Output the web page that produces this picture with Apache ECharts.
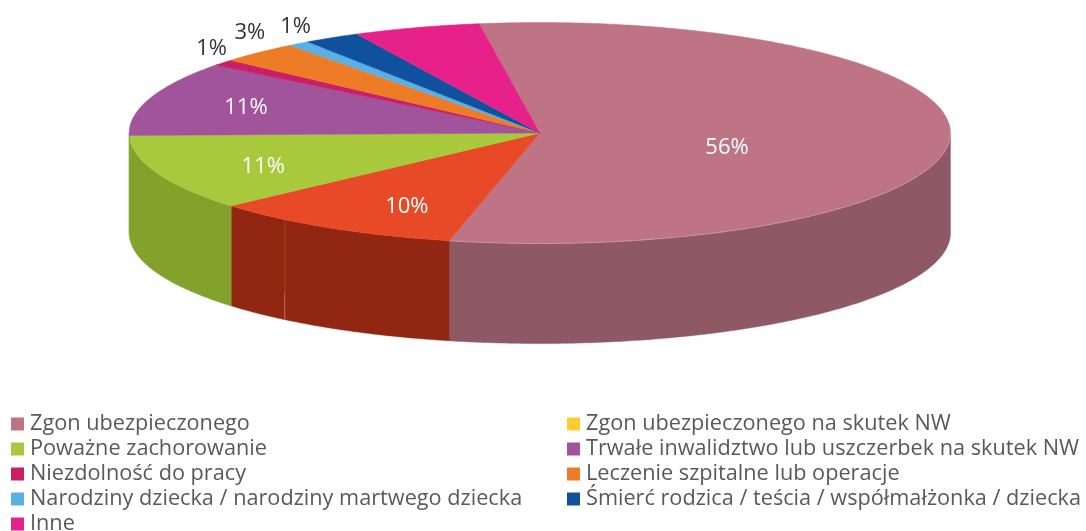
<!DOCTYPE html>
<html>
<head>
<meta charset="utf-8">
<style>html,body{margin:0;padding:0;background:#fff}#c{width:1086px;height:531px}</style>
<script src="https://cdn.jsdelivr.net/npm/echarts@6/dist/echarts.min.js"></script>
</head>
<body>
<div id="c"></div>
<script>
// --- data ---
const categories = [
  "Zgon ubezpieczonego", "Zgon ubezpieczonego na skutek NW",
  "Poważne zachorowanie", "Trwałe inwalidztwo lub uszczerbek na skutek NW",
  "Niezdolność do pracy", "Leczenie szpitalne lub operacje",
  "Narodziny dziecka / narodziny martwego dziecka", "Śmierć rodzica / teścia / współmałżonka / dziecka",
  "Inne"
];
const values = [55.9, 10, 11.1, 10.9, 0.9, 3.15, 0.85, 2.2, 5];
const valueLabels = ["56%", "10%", "11%", "11%", "1%", "3%", "1%", "", ""];

// --- styles ---
const topColors  = ["#BE7485", "#E84A27", "#A8C93C", "#A1549B", "#C91F66", "#EE7B25", "#5AB0E2", "#10519E", "#E6228A"];
const wallColors = ["#8F5865", "#912712", "#83A22C", "#83A22C", "#96174C", "#B25C1C", "#4484AA", "#0C3D77", "#AD1A68"];
const legendColors = ["#BE7485", "#FFCB2E", "#A8C93C", "#A1549B", "#C91F66", "#EE7B25", "#5AB0E2", "#10519E", "#E6228A"];
const FONT = "Open Sans";

// --- layout ---
const CX = 539.8, CY = 133, RX = 410.6, RY = 110.5, DEPTH = 100, START_DEG = -8.5;
const labelRadius = [0.6, 0.6, 0.6, 0.6, 1.1, 1.1, 1.1, 1.1, 1.1];
const labelNudge = [[-59, 12], [-7, 17], [-47, 10], [-60, -4], [20, -7], [19, -12], [21, -8], [0, 0], [0, 0]];
const seamDeg = 218.4;

const total = values.reduce((a, b) => a + b, 0);
const pt = (deg, f = 1, dy = 0) => {
  const t = deg * Math.PI / 180;
  return [CX + RX * f * Math.sin(t), CY - RY * f * Math.cos(t) + dy];
};
function arcPts(a, b, dy) {
  const out = [], n = Math.max(2, Math.ceil(Math.abs(b - a) * 2));
  for (let i = 0; i <= n; i++) out.push(pt(a + (b - a) * i / n, 1, dy));
  return out;
}
let acc = START_DEG;
const spans = values.map(v => { const s = acc; acc += v / total * 360; return [s, acc]; });

const series = categories.map((name, i) => ({
  type: "custom",
  name,
  coordinateSystem: "none",
  silent: true,
  animation: false,
  itemStyle: { color: legendColors[i] },
  data: [[values[i]]],
  renderItem: function () {
    const [a, b] = spans[i];
    const children = [];
    const wa = Math.max(a, 90), wb = Math.min(b, 270);
    if (wb > wa) {
      const top = arcPts(wa, wb, 0), bot = arcPts(wb, wa, DEPTH);
      children.push({ type: "polygon", shape: { points: top.concat(bot) },
        style: { fill: wallColors[i], stroke: wallColors[i], lineWidth: 0.5 } });
    }
    if (seamDeg > a && seamDeg < b) {
      const p0 = pt(seamDeg, 1, 0), p1 = pt(seamDeg, 1, DEPTH * 0.74), p2 = pt(seamDeg, 1, DEPTH);
      children.push({ type: "line", shape: { x1: p0[0], y1: p0[1], x2: p1[0], y2: p1[1] },
        style: { stroke: "#A8401F", lineWidth: 1 } });
      children.push({ type: "line", shape: { x1: p1[0], y1: p1[1], x2: p2[0], y2: p2[1] },
        style: { stroke: "#BC6F5C", lineWidth: 1 } });
    }
    children.push({ type: "polygon", shape: { points: [[CX, CY]].concat(arcPts(a, b, 0)) },
      style: { fill: topColors[i], stroke: topColors[i], lineWidth: 0.5 } });
    if (i === 0) {
      children.push({ type: "polyline", shape: { points: arcPts(90, b, 0) },
        style: { fill: null, stroke: "rgba(255,255,255,0.3)", lineWidth: 0.7 } });
    }
    if (valueLabels[i]) {
      const anchor = pt((a + b) / 2, labelRadius[i]);
      const inside = labelRadius[i] < 1;
      children.push({ type: "text", style: {
        text: valueLabels[i],
        x: anchor[0] + labelNudge[i][0], y: anchor[1] + labelNudge[i][1],
        fill: inside ? "#FFFFFF" : "#333333",
        fontFamily: FONT, fontSize: 22, align: "center", verticalAlign: "middle"
      } });
    }
    return { type: "group", children };
  }
}));

const legendBase = {
  orient: "vertical", selectedMode: false, icon: "rect",
  itemWidth: 13, itemHeight: 13, itemGap: 0, padding: 0, height: 200, width: 530,
  textStyle: { color: "#595959", fontFamily: FONT, fontSize: 21.7, padding: [0, 0, 0, 1], lineHeight: 25, height: 25 }
};

const chart = echarts.init(document.getElementById("c"), null, { renderer: "canvas" });
chart.setOption({
  animation: false,
  backgroundColor: "#fff",
  legend: [
    Object.assign({}, legendBase, { left: 11, top: 411.5, data: categories.filter((_, i) => i % 2 === 0) }),
    Object.assign({}, legendBase, { left: 567, top: 411.5, data: categories.filter((_, i) => i % 2 === 1) })
  ],
  series
});
</script>
</body>
</html>
